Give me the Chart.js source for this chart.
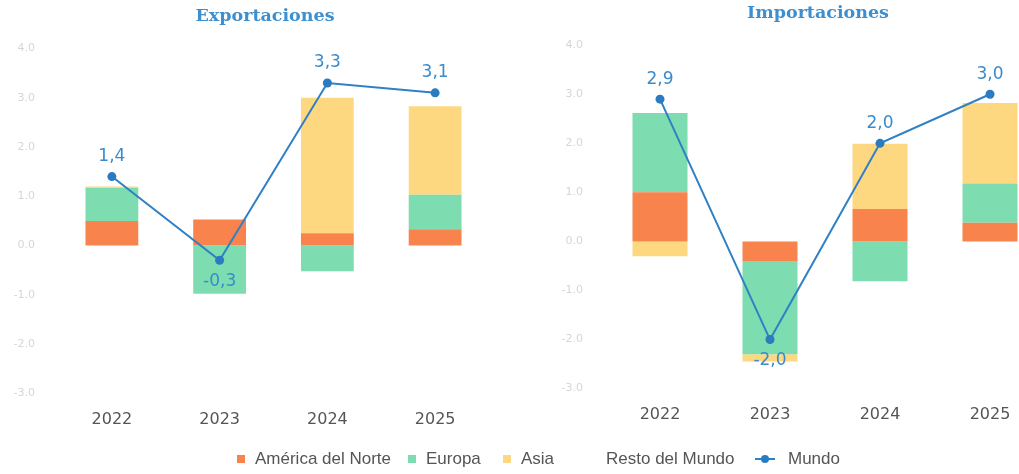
<!DOCTYPE html>
<html>
<head>
<meta charset="utf-8">
<script src="https://cdn.jsdelivr.net/npm/chart.js@4.4.0/dist/chart.umd.min.js"></script>
<style>
  html, body { margin: 0; padding: 0; background: #fff; overflow: hidden; width: 1019px; height: 474px; position: relative; }
  #exp { position: absolute; left: 0; top: 0; }
  #imp { position: absolute; left: 560px; top: 0; }
  #legend { position: absolute; left: 0; top: 448px; width: 1019px; height: 22px;
            font: 17px "Liberation Sans", Arial, sans-serif; color: #555; white-space: nowrap; }
  #legend .item { position: absolute; top: 0; height: 22px; display: flex; align-items: center; }
  #legend .sw { width: 8px; height: 8px; margin-right: 10px; }
  #legend .ln { width: 20px; height: 2px; background: #2f80c4; position: relative; margin-right: 13px; }
  #legend .ln::after { content: ""; position: absolute; left: 6px; top: -3px; width: 8px; height: 8px; border-radius: 50%; background: #2a7bbf; }
</style>
</head>
<body>
<canvas id="exp" width="530" height="460"></canvas>
<canvas id="imp" width="516" height="460"></canvas>
<div id="legend"></div>
<script>
const years = ['2022', '2023', '2024', '2025'];
const seriesNames = ['América del Norte', 'Europa', 'Asia', 'Resto del Mundo'];
const seriesColors = ['#f8834d', '#7ddcb0', '#fed880', '#ffffff'];
const lineName = 'Mundo';

// Exportaciones
const expNorte = [0.50, 0.53, 0.25, 0.33];
const expEuropa = [0.67, -0.98, -0.52, 0.70];
const expAsia = [0.03, 0.00, 2.75, 1.80];
const expResto = [0.20, 0.15, 0.82, 0.27];
const expMundo = [1.4, -0.3, 3.3, 3.1];

// Importaciones
const impNorte = [1.00, -0.40, 0.66, 0.38];
const impEuropa = [1.62, -1.90, -0.81, 0.80];
const impAsia = [-0.30, -0.15, 1.33, 1.64];
const impResto = [0.58, 0.45, 0.82, 0.18];
const impMundo = [2.9, -2.0, 2.0, 3.0];

const yTicks = [-3, -2, -1, 0, 1, 2, 3, 4];

// values of the Mundo line, written above (or below when negative) each point
const mundoLabels = {
  id: 'mundoLabels',
  afterDatasetsDraw(chart) {
    const idx = chart.data.datasets.findIndex(d => d.type === 'line');
    const meta = chart.getDatasetMeta(idx);
    const vals = chart.data.datasets[idx].data;
    const ctx = chart.ctx;
    ctx.save();
    ctx.font = '17px "DejaVu Sans"';
    ctx.fillStyle = '#3b8bcb';
    ctx.textAlign = 'center';
    ctx.textBaseline = 'middle';
    meta.data.forEach((pt, i) => {
      const v = vals[i];
      ctx.fillText(v.toFixed(1).replace('.', ','), pt.x, pt.y + (v < 0 ? 21 : -20));
    });
    ctx.restore();
  }
};

// panel title, placed off-centre like in the original
const panelTitle = {
  id: 'panelTitle',
  afterDraw(chart, args, opts) {
    const ctx = chart.ctx;
    ctx.save();
    ctx.font = 'bold 17.5px "DejaVu Serif"';
    ctx.fillStyle = '#3d8fcf';
    ctx.textAlign = 'center';
    ctx.textBaseline = 'middle';
    ctx.fillText(opts.text, opts.x, opts.y);
    ctx.restore();
  }
};

function makeChart(id, title, series, mundo, o) {
  const datasets = series.map((data, i) => ({
    type: 'bar',
    label: seriesNames[i],
    data: data,
    backgroundColor: seriesColors[i],
    borderWidth: 0,
    barPercentage: o.bar,
    categoryPercentage: 1,
    order: 1
  }));
  datasets.push({
    type: 'line',
    label: lineName,
    data: mundo,
    borderColor: '#2f80c4',
    borderWidth: 2,
    pointRadius: 4.5,
    pointBackgroundColor: '#2a7bbf',
    pointBorderWidth: 0,
    stack: 'mundo',
    order: 0
  });
  return new Chart(document.getElementById(id), {
    data: { labels: years, datasets: datasets },
    plugins: [mundoLabels, panelTitle],
    options: {
      responsive: false,
      animation: false,
      layout: { padding: { top: o.padTop, right: o.padRight, bottom: o.padBottom, left: 0 } },
      scales: {
        x: {
          stacked: true,
          grid: { display: false, drawTicks: false },
          border: { display: false },
          ticks: { color: '#555', padding: 17, font: { family: 'DejaVu Sans', size: 16 } }
        },
        y: {
          stacked: true,
          min: -3, max: 4,
          afterBuildTicks: s => { s.ticks = yTicks.map(v => ({ value: v })); },
          afterFit: s => { s.width = o.axisWidth; },
          grid: { display: false, drawTicks: false },
          border: { display: false },
          ticks: { color: '#d6d6d6', padding: o.tickPad, font: { family: 'DejaVu Sans', size: 11 },
                   callback: v => v.toFixed(1) }
        }
      },
      plugins: {
        legend: { display: false },
        tooltip: { enabled: false },
        title: { display: false },
        panelTitle: { text: title, x: o.titleX, y: o.titleY }
      }
    }
  });
}

makeChart('exp', 'Exportaciones', [expNorte, expEuropa, expAsia, expResto], expMundo,
  { bar: 0.49, padTop: 48.5, padRight: 41, padBottom: 13.5, axisWidth: 58, tickPad: 23, titleX: 265, titleY: 16.5 });
makeChart('imp', 'Importaciones', [impNorte, impEuropa, impAsia, impResto], impMundo,
  { bar: 0.5, padTop: 45.2, padRight: 31, padBottom: 18.2, axisWidth: 45, tickPad: 22, titleX: 258, titleY: 13.5 });

// shared legend, one entry per series plus the line
const legendStarts = [237, 408, 503, 588, 755];
const legend = document.getElementById('legend');
seriesNames.forEach((name, i) => {
  const it = document.createElement('div');
  it.className = 'item';
  it.style.left = legendStarts[i] + 'px';
  it.innerHTML = '<span class="sw" style="background:' + seriesColors[i] + '"></span>' + name;
  legend.appendChild(it);
});
const ml = document.createElement('div');
ml.className = 'item';
ml.style.left = legendStarts[4] + 'px';
ml.innerHTML = '<span class="ln"></span>' + lineName;
legend.appendChild(ml);
</script>
</body>
</html>
